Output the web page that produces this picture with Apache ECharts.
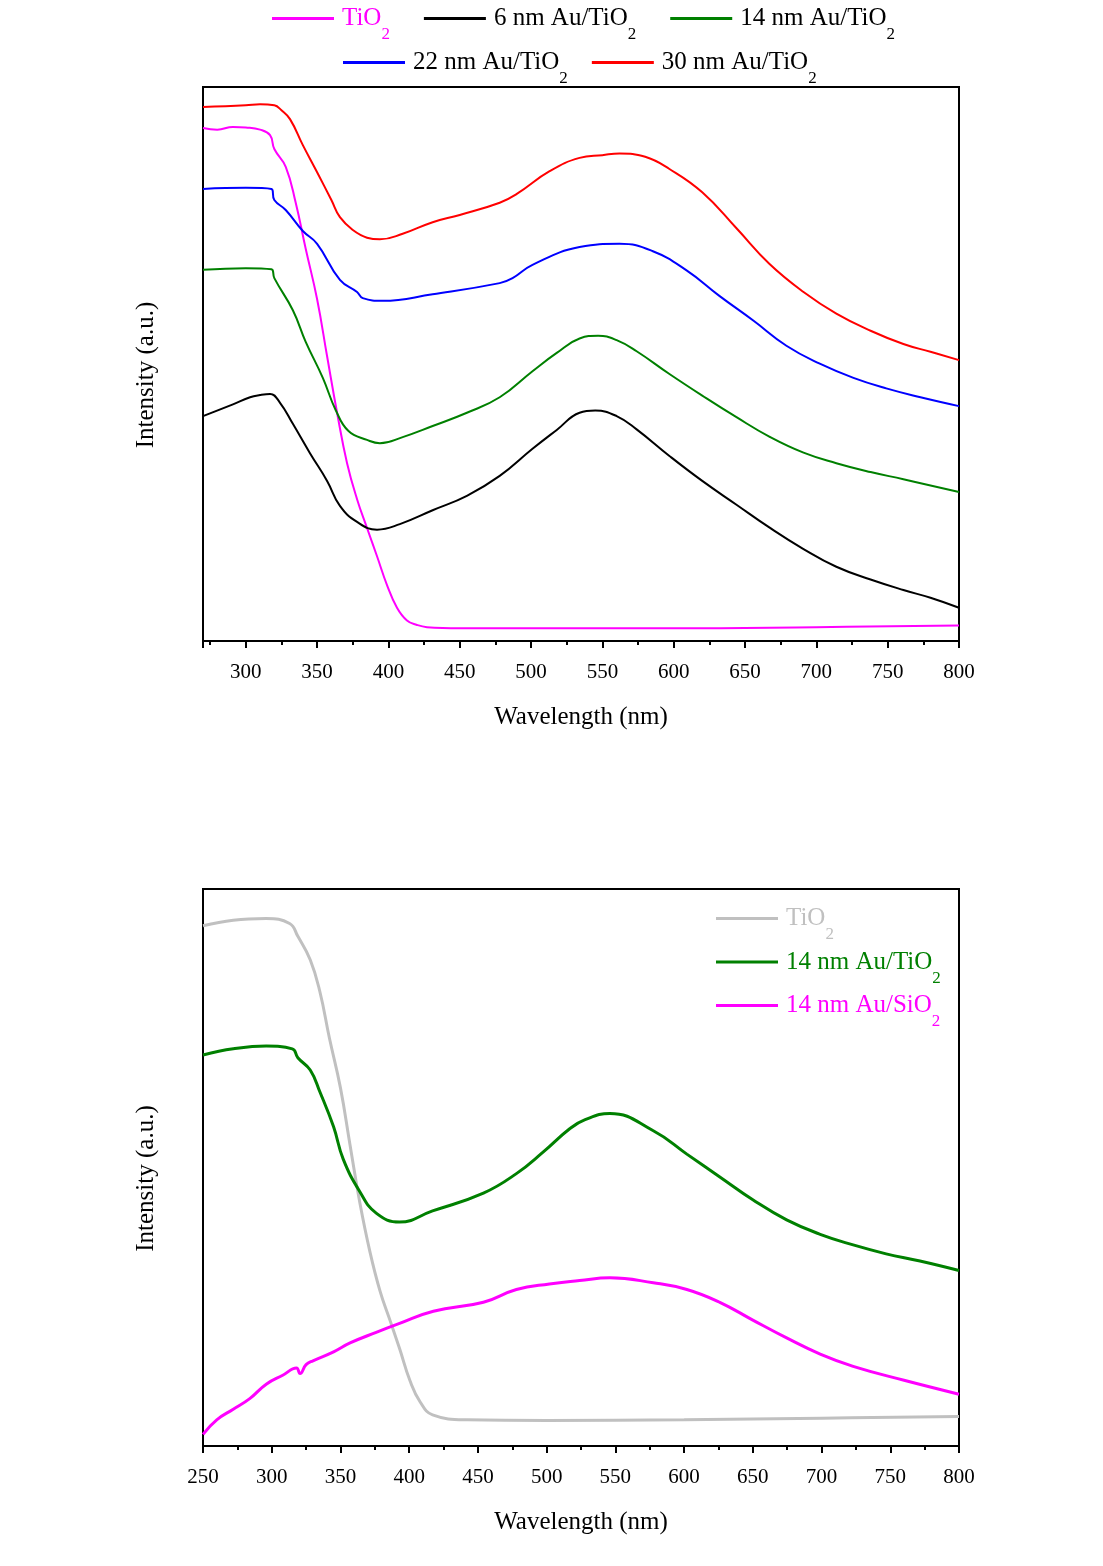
<!DOCTYPE html>
<html>
<head>
<meta charset="utf-8">
<script src="https://cdn.jsdelivr.net/npm/echarts@6/dist/echarts.min.js"></script>
<style>
  html, body { margin: 0; padding: 0; background: #ffffff; }
  #chart { width: 1103px; height: 1566px; }
</style>
</head>
<body>
<div id="chart"></div>
<script>
// ---------- Top panel (a) ----------
const topTiO2_nm  = [270,280,291,300,310,317,320,328,335,342,350,357,364,371,378,385,392,399,406,413,420,427,450,500,600,700,800];
const topTiO2_int = [92.6,92.3,92.8,92.7,92.3,91.3,88.8,85.6,79.1,70.8,61.7,51.4,41.2,32.1,25.6,20.4,15.3,10.1,6.0,3.7,2.9,2.5,2.3,2.3,2.3,2.5,2.8];

const topAu6_nm  = [270,291,303,310,317,324,333,345,357,366,378,392,408,431,455,478,501,518,534,545,560,574,597,620,644,667,691,714,738,761,780,800];
const topAu6_int = [40.6,42.7,44.0,44.4,44.6,43.0,39.2,33.9,28.9,24.4,21.5,20.1,21.1,23.6,26.2,29.8,34.7,38.1,41.2,41.6,40.6,38.2,33.4,28.9,24.6,20.5,16.6,13.4,11.1,9.2,7.8,6.0];

const topAu14_nm  = [270,300,318,320,333,342,354,363,372,385,394,410,431,455,478,501,518,534,547,560,574,597,620,644,667,691,714,738,761,800];
const topAu14_int = [67.0,67.3,67.1,65.5,59.7,54.0,47.5,41.7,37.9,36.3,35.7,36.8,38.8,41.2,44.0,48.7,52.0,54.6,55.1,54.3,52.3,48.2,44.3,40.4,36.9,34.0,32.1,30.5,29.2,26.9];

const topAu22_nm  = [270,300,318,320,328,340,350,366,378,382,396,431,478,487,501,534,562,585,609,632,656,679,702,726,749,773,800];
const topAu22_int = [81.6,81.8,81.6,79.6,77.8,74.0,71.7,65.2,63.0,61.9,61.4,62.6,64.6,65.5,67.9,71.1,71.7,70.4,66.9,62.3,57.8,53.3,50.1,47.5,45.6,44.0,42.4];

const topAu30_nm  = [270,300,310,320,325,331,340,350,360,366,375,385,394,410,431,450,478,490,513,534,550,562,580,597,620,644,667,691,714,738,761,780,800];
const topAu30_int = [96.4,96.7,96.9,96.7,95.8,94.2,89.5,84.6,79.6,76.5,74.2,72.8,72.5,73.5,75.6,76.9,79.1,80.7,84.8,87.2,87.7,88.0,87.4,85.2,81.0,74.5,68.1,63.0,59.1,56.0,53.6,52.2,50.7];

// ---------- Bottom panel (b) ----------
const botTiO2_nm  = [250,272,296,313,319,328,335,342,350,357,364,371.5,378.8,386,393,400.6,408,417,442,500,600,700,800];
const botTiO2_int = [93.4,94.4,94.7,93.8,91.5,87.3,81.6,73.2,64.3,54.0,43.8,34.8,27.8,22.6,17.5,11.7,7.9,5.6,4.7,4.6,4.7,5.0,5.3];

const botAuTi_nm  = [250,272,296,315,319,328,335,345,352,364,376,393,417,454,478,497.6,517,528,546,577.6,602,626,650,674.6,699,723,747,771.6,800];
const botAuTi_int = [70.2,71.3,71.8,71.3,69.7,67.5,63.6,57.3,51.5,45.7,41.8,40.2,42.2,45.4,48.9,52.8,57.0,58.6,59.7,56.6,52.4,48.3,44.2,40.6,38.0,36.1,34.5,33.2,31.5];

const botAuSi_nm  = [250,260,272,284,296,308,318,320.6,325,330,345,357,376,393,417.6,454,478,502,524,546,577.6,602,626,650,674.6,699,723,760,800];
const botAuSi_int = [2.1,4.7,6.6,8.5,11.1,12.7,14.0,13.0,14.6,15.3,16.9,18.5,20.4,22.0,24.2,25.8,28.1,29.1,29.7,30.2,29.3,28.1,25.8,22.6,19.4,16.5,14.3,11.8,9.3];

// Legend labels: [main text, subscript]
const legendLabels = {
  tio2Top: ['TiO', '2'],
  au6Top:  ['6 nm Au/TiO', '2'],
  au14Top: ['14 nm Au/TiO', '2'],
  au22Top: ['22 nm Au/TiO', '2'],
  au30Top: ['30 nm Au/TiO', '2'],
  tio2Bot: ['TiO', '2'],
  auTiBot: ['14 nm Au/TiO', '2'],
  auSiBot: ['14 nm Au/SiO', '2']
};

const axisTitleX = 'Wavelength (nm)';
const axisTitleY = 'Intensity (a.u.)';

function zip(xs, ys) { return xs.map((x, i) => [x, ys[i]]); }

const FONT = '"Liberation Serif", "Times New Roman", serif';
const LH = 50;

const richText = {
  m: { fontFamily: FONT, fontSize: 25, lineHeight: LH, padding: [0, 0, 0, 3] },
  s: { fontFamily: FONT, fontSize: 17, lineHeight: 18, verticalAlign: 'bottom' }
};
function fmt(name) {
  const l = legendLabels[name];
  return '{m|' + l[0] + '}{s|' + l[1] + '}';
}

function xAxisCfg(gi, min) {
  return {
    gridIndex: gi, type: 'value', min: min, max: 800,
    splitNumber: 10, minInterval: 50, maxInterval: 50,
    name: axisTitleX, nameLocation: 'middle', nameGap: 64,
    nameTextStyle: { fontFamily: FONT, fontSize: 25, color: '#000' },
    axisLine: { show: true, onZero: false, lineStyle: { color: '#000', width: 2 } },
    axisTick: { show: true, inside: false, length: 7, lineStyle: { color: '#000', width: 2 } },
    minorTick: { show: true, splitNumber: 2, length: 4, lineStyle: { color: '#000', width: 2 } },
    axisLabel: { show: true, margin: 21, fontFamily: FONT, fontSize: 21, color: '#000', showMinLabel: min % 50 === 0 },
    splitLine: { show: false }, minorSplitLine: { show: false }
  };
}
function yAxisCfg(gi) {
  return {
    gridIndex: gi, type: 'value', min: 0, max: 100,
    name: axisTitleY, nameLocation: 'middle', nameGap: 44, nameRotate: 90,
    nameTextStyle: { fontFamily: FONT, fontSize: 25, color: '#000', padding: [0, 22, 0, 0] },
    axisLine: { show: true, onZero: false, lineStyle: { color: '#000', width: 2 } },
    axisTick: { show: false }, axisLabel: { show: false }, splitLine: { show: false }
  };
}
function lineSeries(name, gi, data, color, width) {
  return {
    name: name, type: 'line', xAxisIndex: gi, yAxisIndex: gi,
    data: data, showSymbol: false, symbol: 'none',
    smooth: 0.45,
    lineStyle: { color: color, width: width }, itemStyle: { color: color },
    animation: false, silent: true
  };
}

const legendBase = {
  icon: 'rect', itemWidth: 62, itemHeight: 3, padding: 0,
  selectedMode: false, formatter: fmt,
  textStyle: { fontFamily: FONT, fontSize: 25, color: '#000', rich: richText }
};

const option = {
  backgroundColor: '#ffffff',
  animation: false,
  grid: [
    { left: 203, top: 87, width: 756, height: 554, show: true, borderColor: '#000', borderWidth: 2, backgroundColor: 'transparent' },
    { left: 203, top: 889, width: 756, height: 557, show: true, borderColor: '#000', borderWidth: 2, backgroundColor: 'transparent' }
  ],
  xAxis: [xAxisCfg(0, 270), xAxisCfg(1, 250)],
  yAxis: [yAxisCfg(0), yAxisCfg(1)],
  legend: [
    Object.assign({}, legendBase, {
      left: 272, top: 6, itemGap: 34, orient: 'horizontal',
      data: [
        { name: 'tio2Top', textStyle: { color: '#FF00FF' } },
        { name: 'au6Top' },
        { name: 'au14Top' }
      ]
    }),
    Object.assign({}, legendBase, {
      left: 343, top: 50, itemGap: 24, orient: 'horizontal',
      data: [{ name: 'au22Top' }, { name: 'au30Top' }]
    }),
    Object.assign({}, legendBase, {
      left: 716, top: 906, itemGap: 6, orient: 'vertical',
      data: [
        { name: 'tio2Bot', textStyle: { color: '#C0C0C0' } },
        { name: 'auTiBot', textStyle: { color: '#008000' } },
        { name: 'auSiBot', textStyle: { color: '#FF00FF' } }
      ]
    })
  ],
  series: [
    lineSeries('tio2Top', 0, zip(topTiO2_nm, topTiO2_int), '#FF00FF', 2),
    lineSeries('au6Top', 0, zip(topAu6_nm, topAu6_int), '#000000', 2),
    lineSeries('au14Top', 0, zip(topAu14_nm, topAu14_int), '#008000', 2),
    lineSeries('au22Top', 0, zip(topAu22_nm, topAu22_int), '#0000FF', 2),
    lineSeries('au30Top', 0, zip(topAu30_nm, topAu30_int), '#FF0000', 2),
    lineSeries('tio2Bot', 1, zip(botTiO2_nm, botTiO2_int), '#C0C0C0', 3),
    lineSeries('auTiBot', 1, zip(botAuTi_nm, botAuTi_int), '#008000', 3),
    lineSeries('auSiBot', 1, zip(botAuSi_nm, botAuSi_int), '#FF00FF', 3)
  ]
};

const chart = echarts.init(document.getElementById('chart'), null, { renderer: 'canvas' });
chart.setOption(option);
</script>
</body>
</html>
